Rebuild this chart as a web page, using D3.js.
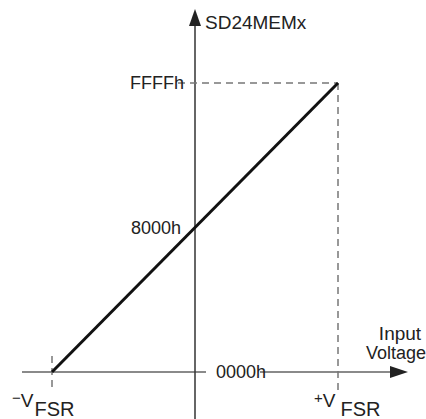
<!DOCTYPE html>
<html>
<head>
<meta charset="utf-8">
<script src="https://cdn.jsdelivr.net/npm/d3@7"></script>
<style>
  body { margin: 0; background: #fff; }
  svg { display: block; font-family: "Liberation Sans", Arial, sans-serif; }
</style>
</head>
<body>
<svg class="transfer" width="426" height="419"></svg>
<script>
// input voltage, in units of VFSR
const inputVolts = [-1, 1];
// output code for each input voltage
const outputCodes = [0x0000, 0xFFFF];
// code tick labels on the vertical axis
const codeTicks = [0x0000, 0x8000, 0xFFFF];
const codeLabels = ['0000h', '8000h', 'FFFFh'];
const voltTicks = [-1, 1];
const voltSigns = ['\u2212', '+'];

const svg = d3.select('.transfer');

const x = d3.scaleLinear().domain([-1, 1]).range([52, 338]);
const y = d3.scaleLinear().domain([0, 0xFFFF]).range([372, 83]);

const axisGrey = '#8a8a8a';
const dashGrey = '#777';

// horizontal axis (input voltage)
svg.append('line')
  .attr('x1', 22).attr('x2', 395)
  .attr('y1', y(0)).attr('y2', y(0))
  .attr('stroke', axisGrey).attr('stroke-width', 2);
svg.append('path')
  .attr('d', `M408,${y(0)} L390,${y(0) - 6} L390,${y(0) + 6} Z`)
  .attr('fill', '#222');

// vertical axis (output code)
svg.append('line')
  .attr('x1', x(0)).attr('x2', x(0))
  .attr('y1', 22).attr('y2', 419)
  .attr('stroke', '#333').attr('stroke-width', 1.5);
svg.append('path')
  .attr('d', `M${x(0)},9 L${x(0) - 6},26 L${x(0) + 6},26 Z`)
  .attr('fill', '#222');

// dashed guides
svg.append('line')
  .attr('x1', x(-1)).attr('x2', x(-1))
  .attr('y1', y(0) - 16).attr('y2', y(0) + 17)
  .attr('stroke', dashGrey).attr('stroke-width', 1.5)
  .attr('stroke-dasharray', '7,5');
svg.append('line')
  .attr('x1', x(1)).attr('x2', x(1))
  .attr('y1', y(0xFFFF)).attr('y2', y(0) + 18)
  .attr('stroke', dashGrey).attr('stroke-width', 1.5)
  .attr('stroke-dasharray', '7,5');
svg.append('line')
  .attr('x1', 178).attr('x2', x(1))
  .attr('y1', y(0xFFFF)).attr('y2', y(0xFFFF))
  .attr('stroke', dashGrey).attr('stroke-width', 1.5)
  .attr('stroke-dasharray', '7,5');

// transfer line
const pts = inputVolts.map((v, i) => [x(v), y(outputCodes[i])]);
svg.append('path')
  .attr('d', d3.line()(pts))
  .attr('fill', 'none')
  .attr('stroke', '#111')
  .attr('stroke-width', 3);

// code labels
codeTicks.forEach((c, i) => {
  if (c === 0) {
    svg.append('rect')
      .attr('x', 206).attr('y', y(0) - 10)
      .attr('width', 54).attr('height', 20)
      .attr('fill', '#fff');
    svg.append('text')
      .attr('x', 216).attr('y', y(0))
      .attr('dy', '0.35em')
      .attr('font-size', 18)
      .attr('fill', '#222')
      .text(codeLabels[i]);
  } else {
    svg.append('text')
      .attr('x', c === 0xFFFF ? 184 : 181).attr('y', y(c))
      .attr('dy', '0.35em')
      .attr('text-anchor', 'end')
      .attr('font-size', 18)
      .attr('fill', '#222')
      .text(codeLabels[i]);
  }
});

// voltage labels
voltTicks.forEach((v, i) => {
  const t = svg.append('text')
    .attr('x', x(v) + (v < 0 ? -40 : -24))
    .attr('y', 407)
    .attr('fill', '#222');
  t.append('tspan').attr('font-size', 15).attr('dy', -4).text(voltSigns[i]);
  t.append('tspan').attr('font-size', 19).attr('dy', 4).text('V');
  t.append('tspan').attr('font-size', 20).attr('dy', 9)
    .attr('dx', v < 0 ? 1 : 5).text('FSR');
});

// axis titles
svg.append('text')
  .attr('x', 205).attr('y', 29)
  .attr('font-size', 19)
  .attr('fill', '#222')
  .text('SD24MEMx');

svg.append('text')
  .attr('x', 400).attr('y', 340)
  .attr('text-anchor', 'middle')
  .attr('font-size', 19)
  .attr('fill', '#222')
  .text('Input');
svg.append('text')
  .attr('x', 366).attr('y', 359)
  .attr('font-size', 18)
  .attr('fill', '#222')
  .text('Voltage');
</script>
</body>
</html>
